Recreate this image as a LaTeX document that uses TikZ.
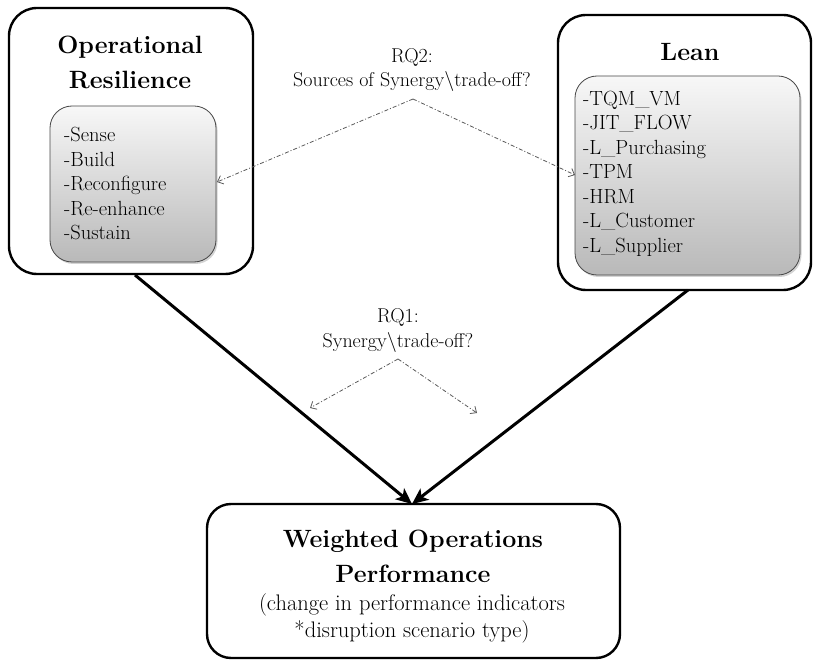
\documentclass[tikz,border=0pt]{standalone}
\usepackage{fontspec}
\usetikzlibrary{arrows.meta,shadows}
\begin{document}
\begin{tikzpicture}[x=1pt,y=-1pt,
  outerbox/.style={draw=black, line width=2.4pt, rounded corners=28pt, rectangle, inner sep=0pt},
  innerbox/.style={draw=gray!55!black, line width=0.8pt, rounded corners=22pt, rectangle, inner sep=0pt,
     top color=gray!6, bottom color=gray!55,
     drop shadow={opacity=0.35, shadow xshift=1.5pt, shadow yshift=-2pt}},
  titletext/.style={font=\rmfamily\fontsize{25}{35}\selectfont\bfseries, align=center, inner sep=0pt},
  itemtext/.style={font=\rmfamily\fontsize{20.5}{24.5}\selectfont, align=left, inner sep=0pt, anchor=west},
  rqtext/.style={font=\rmfamily\fontsize{20}{24.5}\selectfont, align=center, inner sep=0pt},
  bigarrow/.style={line width=3pt, -{Stealth[length=16pt,width=14pt,inset=4pt]}},
  rqarrow/.style={draw=gray!70!black, line width=0.8pt, dash pattern=on 4pt off 2pt on 1pt off 2pt,
     -{Straight Barb[length=5pt,width=9pt]}}
]
\useasboundingbox (0,0) rectangle (814,660);

% outer boxes
\node[outerbox, minimum width=244pt, minimum height=266pt] (outL) at (131,141) {};
\node[outerbox, minimum width=253pt, minimum height=275pt] (outR) at (684.5,152.5) {};
\node[outerbox, minimum width=413pt, minimum height=154pt, rounded corners=24pt] (bot) at (413.5,581) {};

% inner boxes
\node[innerbox, minimum width=166pt, minimum height=156pt] (inL) at (133,184) {};
\node[innerbox, minimum width=225pt, minimum height=199pt] (inR) at (687.5,175.5) {};

% titles
\node[titletext] (tL) at (130,62.5) {Operational\\Resilience};
\node[titletext] (tR) at (690,52) {Lean};
\node[titletext] (tB) at (413,556) {Weighted Operations\\Performance};
\node[font=\rmfamily\fontsize{22.5}{27}\selectfont, align=center, inner sep=0pt] (sB) at (412,618.5)
  {(change in performance indicators\\*disruption scenario type)};

% item lists
\node[itemtext] (lL) at (64,184) {-Sense\\-Build\\-Reconfigure\\-Re-enhance\\-Sustain};
\node[itemtext] (lR) at (583,173.5) {-TQM\_VM\\-JIT\_FLOW\\-L\_Purchasing\\-TPM\\-HRM\\-L\_Customer\\-L\_Supplier};

% research questions
\node[rqtext] (rq2) at (412,70) {RQ2:\\Sources of Synergy\textbackslash trade-off?};
\node[rqtext] (rq1) at (398,330.5) {RQ1:\\Synergy\textbackslash trade-off?};

% coordinates
\coordinate (a2) at (413,99);
\coordinate (e2L) at (217,182);
\coordinate (e2R) at (575,175);
\coordinate (a1) at (398,359);
\coordinate (e1L) at (310,408);
\coordinate (e1R) at (477,413);
\coordinate (sL) at (135,275);
\coordinate (sR) at (688,290);
\coordinate (tip) at (412,504);

% dashed arrows
\draw[rqarrow] (a2) -- (e2L);
\draw[rqarrow] (a2) -- (e2R);
\draw[rqarrow] (a1) -- (e1L);
\draw[rqarrow] (a1) -- (e1R);

% big arrows
\draw[bigarrow] (sL) -- (tip);
\draw[bigarrow] (sR) -- (tip);
\end{tikzpicture}
\end{document}
